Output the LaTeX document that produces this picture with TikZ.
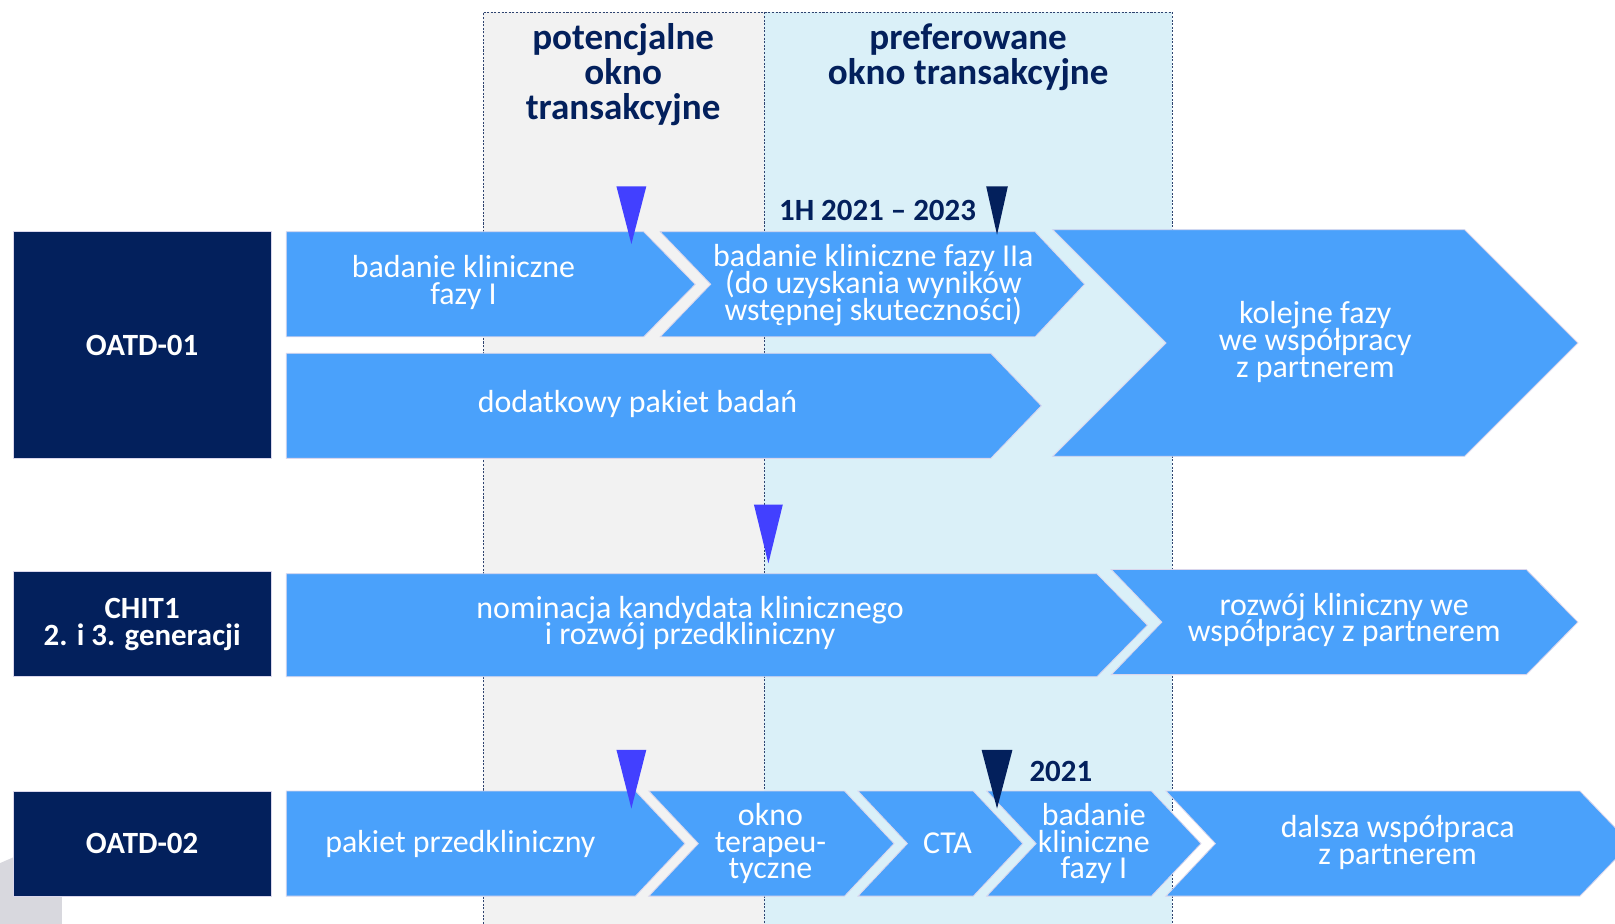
\documentclass[tikz,border=0pt]{standalone}
\usepackage{fontspec}
\setmainfont{Carlito}
\usepackage{tikz}
\usetikzlibrary{positioning,calc}
\definecolor{granat}{HTML}{03205C}
\definecolor{fazaC}{RGB}{74,161,251}
\definecolor{fioletC}{RGB}{66,64,255}
\definecolor{szaryC}{HTML}{F2F2F2}
\definecolor{blekitC}{HTML}{DAF0F8}
\definecolor{ramkaC}{RGB}{218,214,236}
\definecolor{liniaC}{HTML}{2F4470}
\definecolor{rogC}{RGB}{216,216,222}
\newcommand{\ciasno}{\lineskiplimit=-60pt\relax}
\tikzset{
  faza/.style={fill=fazaC, draw=ramkaC, line width=0.8pt},
  opis/.style={text=white, align=center,
               font={\fontsize{31}{26}\selectfont\ciasno}},
  etykieta/.style={rectangle, fill=granat, draw=ramkaC, line width=0.6pt, text=white,
                   align=center, font={\fontsize{30}{26}\selectfont\bfseries\ciasno},
                   minimum width=250pt, inner sep=0pt},
  naglowek/.style={text=granat, align=center,
                   font={\fontsize{36}{34}\selectfont\bfseries\ciasno}},
  data/.style={text=granat, font={\fontsize{30}{30}\selectfont\bfseries}},
  okno/.style={draw=liniaC, line width=0.8pt, dash pattern=on 2pt off 1.5pt},
}
% x1, x2 (top right), xtip, ytop, ybot
\newcommand{\chevstart}[5]{\path[faza] (#1,#4) -- (#2,#4) -- (#3,{(#4+#5)/2}) -- (#2,#5) -- (#1,#5) -- cycle;}
% x1, xnotch, x2, xtip, ytop, ybot
\newcommand{\chevmid}[6]{\path[faza] (#1,#5) -- (#3,#5) -- (#4,{(#5+#6)/2}) -- (#3,#6) -- (#1,#6) -- (#2,{(#5+#6)/2}) -- cycle;}
% colour, x, ytop, half width, depth
\newcommand{\znacznik}[5]{\fill[#1] (#2-#4,#3) -- (#2+#4,#3) -- (#2,#3+#5) -- cycle;}

\begin{document}
\begin{tikzpicture}[x=1pt, y=-1pt]
    \clip (0,0) rectangle (1568,897);
    \fill[white] (0,0) rectangle (1568,897);

    % okna transakcyjne
    \fill[szaryC] (469,12) rectangle (742,897);
    \fill[blekitC] (742,12) rectangle (1138,897);
    \draw[okno] (469,897) -- (469,12) -- (1138,12) -- (1138,897);
    \draw[okno] (742,12) -- (742,897);
    \node[naglowek] (potencjalne) at (605,72) {potencjalne\\okno\\transakcyjne};
    \node[naglowek] (preferowane) at (940,56) {preferowane\\okno transakcyjne};

    % szary fragment w rogu
    \fill[rogC] (0,838) -- (60,812) -- (60,897) -- (0,897) -- cycle;

    % etykiety projektow
    \node[etykieta, minimum height=220pt] (oatd1) at (138,335) {OATD-01};
    \node[etykieta, minimum height=102pt] (chit1) at (138,606) {CHIT1\\2. i 3. generacji};
    \node[etykieta, minimum height=102pt] (oatd2) at (138,819) {OATD-02};

    % OATD-01
    \chevstart{278}{625}{675}{225}{327}
    \chevmid{641}{690}{1005}{1053}{225}{327}
    \chevstart{278}{962}{1011}{343}{445}
    \chevmid{1022}{1132}{1422}{1532}{223}{443}
    \node[opis] (f11) at (450,274) {badanie kliniczne\\fazy I};
    \node[opis] (f12) at (848,277) {badanie kliniczne fazy IIa\\(do uzyskania wyników\\wstępnej skuteczności)};
    \node[opis] (f13) at (619,392) {dodatkowy pakiet badań};
    \node[opis] (f14) at (1277,332) {kolejne fazy\\we współpracy\\z partnerem};

    % CHIT1
    \chevstart{278}{1065}{1114}{557}{657}
    \chevmid{1079}{1128}{1482}{1532}{553}{655}
    \node[opis] (f21) at (670,605) {nominacja kandydata klinicznego\\i rozwój przedkliniczny};
    \node[opis] (f22) at (1305,602) {rozwój kliniczny we\\współpracy z partnerem};

    % OATD-02
    \chevstart{278}{617}{665}{768}{870}
    \chevmid{630}{678}{820}{868}{768}{870}
    \chevmid{833}{881}{945}{993}{768}{870}
    \chevmid{958}{1006}{1118}{1166}{768}{870}
    \chevmid{1132}{1180}{1534}{1583}{768}{870}
    \node[opis] (f31) at (447,819) {pakiet przedkliniczny};
    \node[opis] (f32) at (748,819) {okno\\terapeu-\\tyczne};
    \node[opis] (f33) at (920,819) {CTA};
    \node[opis] (f34) at (1062,819) {badanie\\kliniczne\\fazy I};
    \node[opis] (f35) at (1357,818) {dalsza współpraca\\z partnerem};

    % znaczniki
    \znacznik{fioletC}{613}{181}{14.5}{56}
    \znacznik{granat}{968}{181}{10.5}{47}
    \znacznik{fioletC}{746}{490}{14}{57}
    \znacznik{fioletC}{613}{728}{14.5}{57}
    \znacznik{granat}{968}{728}{15}{57}
    \node[data, anchor=east] (termin1) at (951,204) {1H 2021 – 2023};
    \node[data] (termin2) at (1030,749) {2021};
\end{tikzpicture}
\end{document}
